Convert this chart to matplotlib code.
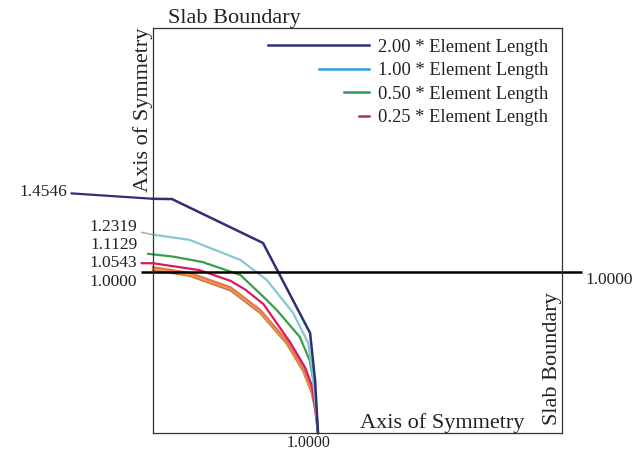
import matplotlib
matplotlib.use("Agg")
import matplotlib.pyplot as plt
from matplotlib.lines import Line2D
from matplotlib.legend_handler import HandlerLine2D

plt.rcParams['font.family'] = ['Liberation Serif', 'DejaVu Serif']

# curves (x, y in units of the reference radius)
x_200 = [0.0, 0.115, 0.667, 0.952, 0.982, 1.0]
y_200 = [1.4546, 1.453, 1.180, 0.621, 0.33, 0.0]

x_100 = [0.0, 0.22, 0.53, 0.69, 0.85, 0.94, 0.965, 1.0]
y_100 = [1.2319, 1.20, 1.075, 0.95, 0.745, 0.56, 0.39, 0.0]

x_050 = [-0.03, 0.12, 0.30, 0.53, 0.67, 0.75, 0.89, 0.95, 0.982, 1.0]
y_050 = [1.1129, 1.096, 1.062, 0.981, 0.845, 0.764, 0.596, 0.45, 0.267, 0.0]

x_025 = [0.0, 0.28, 0.47, 0.56, 0.67, 0.83, 0.92, 0.965, 1.0]
y_025 = [1.0543, 1.012, 0.945, 0.89, 0.80, 0.565, 0.41, 0.29, 0.0]

# finer meshes, bunched together near the unit circle
x_fine = [0.0, 0.22, 0.47, 0.65, 0.81, 0.91, 0.96, 0.99, 1.0]
y_fine_a = [1.030, 0.995, 0.905, 0.765, 0.575, 0.405, 0.275, 0.14, 0.0]
y_fine_b = [1.020, 0.985, 0.895, 0.755, 0.565, 0.395, 0.265, 0.13, 0.0]
y_fine_c = [1.012, 0.977, 0.886, 0.745, 0.556, 0.385, 0.255, 0.12, 0.0]

labels = ['2.00 * Element Length', '1.00 * Element Length',
          '0.50 * Element Length', '0.25 * Element Length']
curve_colors = ['#2f2f78', '#86c8d2', '#3a9e48', '#d81b60']
legend_colors = ['#2f2f78', '#2aa3dc', '#2e9a5a', '#b03060']
legend_frac = [1.0, 0.5, 0.25, 0.1]

start_labels = ['1.4546', '1.2319', '1.1129', '1.0543', '1.0000']
start_vals = [1.4546, 1.2319, 1.1129, 1.0543, 1.0]
ref_level = 1.0

fig = plt.figure(figsize=(6.42, 4.5), dpi=100)
ax = fig.add_axes([153/642, 17/450, 409/642, 405/450])
ax.set_xlim(0, 409/165)
ax.set_ylim(0, 405/161)
ax.set_xticks([])
ax.set_yticks([])
for s in ax.spines.values():
    s.set_color('#333333')
    s.set_linewidth(0.9)

for yf, c in zip([y_fine_c, y_fine_b, y_fine_a], ['#c8703a', '#e9a05a', '#e07a4a']):
    ax.plot(x_fine, yf, color=c, lw=1.6, clip_on=False)

ax.plot(x_025, y_025, color=curve_colors[3], lw=1.6, clip_on=False)
ax.plot(x_050, y_050, color=curve_colors[2], lw=1.6, clip_on=False)
ax.plot(x_100, y_100, color=curve_colors[1], lw=1.6, clip_on=False)
ax.plot(x_200, y_200, color=curve_colors[0], lw=1.8, clip_on=False)

ax.hlines(ref_level, -0.07, 2.6, color='black', lw=1.8, clip_on=False)

# value labels on the left, with leaders
ts = dict(fontsize=12.5, color='#222222', va='center', ha='right')
ax.annotate(start_labels[0], xy=(0, start_vals[0]), xytext=(-0.52, 1.50),
            arrowprops=dict(arrowstyle='-', color=curve_colors[0], lw=1.6,
                            shrinkA=1, shrinkB=0), annotation_clip=False, **ts)
ax.annotate(start_labels[1], xy=(0, start_vals[1]), xytext=(-0.095, 1.28),
            arrowprops=dict(arrowstyle='-', color='#b0b0b0', lw=1.2,
                            shrinkA=1, shrinkB=0), annotation_clip=False, **ts)
ax.text(-0.095, 1.168, start_labels[2], **ts)
ax.annotate(start_labels[3], xy=(0, start_vals[3]), xytext=(-0.095, 1.056),
            arrowprops=dict(arrowstyle='-', color=curve_colors[3], lw=1.6,
                            shrinkA=1, shrinkB=0), annotation_clip=False, **ts)
ax.text(-0.095, 0.938, start_labels[4], **ts)
ax.text(2.618, ref_level, '1.0000', fontsize=12.5, color='#222222',
        ha='left', va='top')
ax.text(0.94, -0.012, '1.0000', fontsize=11.5, color='#222222',
        ha='center', va='top')

# boundary names
bs = dict(fontsize=16, color='#222222', transform=ax.transAxes)
ax.text(0.037, 1.0, 'Slab Boundary', ha='left', va='bottom', **bs)
ax.text(0.0, 1.0, 'Axis of Symmetry', rotation=90, ha='right', va='top', **bs)
ax.text(0.909, 0.0, 'Axis of Symmetry', ha='right', va='bottom', **bs)
ax.text(1.0, 0.02, 'Slab Boundary', rotation=90, ha='right', va='bottom', **bs)


class ShortLine(HandlerLine2D):
    def __init__(self, frac, **kw):
        super().__init__(**kw)
        self.frac = frac

    def create_artists(self, legend, orig_handle, xdescent, ydescent,
                       width, height, fontsize, trans):
        x1 = -xdescent + width
        x0 = x1 - width * self.frac
        yy = height / 2 - ydescent
        ln = Line2D([x0, x1], [yy, yy], color=orig_handle.get_color(),
                    lw=orig_handle.get_linewidth())
        ln.set_transform(trans)
        return [ln]


handles = [Line2D([], [], color=c, lw=1.8) for c in legend_colors]
ax.legend(handles, labels, loc='upper right', bbox_to_anchor=(0.966, 0.974),
          frameon=False, fontsize=13.3, handlelength=5.5, handletextpad=0.45,
          labelspacing=0.36, borderpad=0, borderaxespad=0,
          labelcolor='#222222',
          handler_map={h: ShortLine(f) for h, f in zip(handles, legend_frac)})

fig.savefig('out.png', dpi=100)
